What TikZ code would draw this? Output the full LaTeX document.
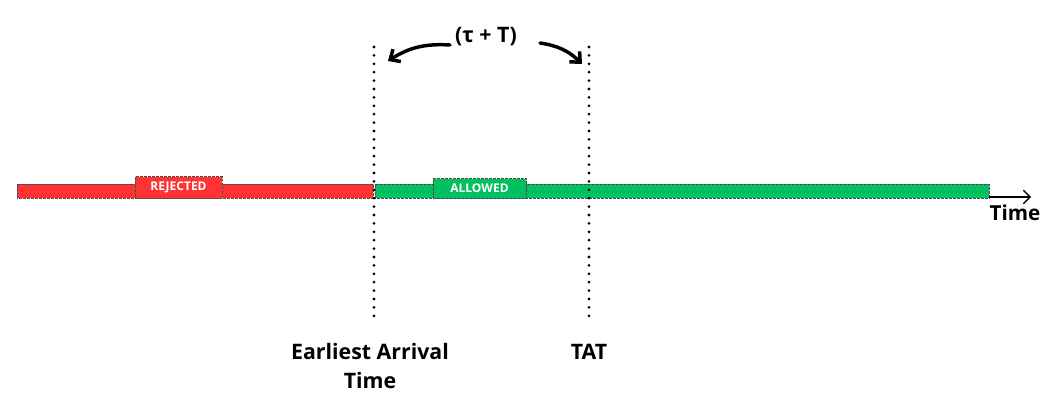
\documentclass[tikz,border=0pt]{standalone}
\usepackage{fontspec}
\setmainfont{Open Sans}
\usetikzlibrary{arrows.meta}
\usetikzlibrary{positioning}
\definecolor{rejred}{HTML}{FF3333}
\definecolor{allgreen}{HTML}{00C060}
\tikzset{
  bar/.style={draw=black!70, dashed, dash pattern=on 2pt off 1pt, line width=.4pt},
  tag/.style={bar, inner sep=0pt, font=\bfseries\fontsize{9}{11}\selectfont, text=white},
  marker/.style={line width=2.3pt, dash pattern=on 0pt off 6.3pt, line cap=round},
  label/.style={font=\bfseries\fontsize{16}{21.5}\selectfont, align=center}
}
\begin{document}
\begin{tikzpicture}[x=0.75pt,y=-0.75pt]
\useasboundingbox (0,0) rectangle (1056,404);

% bars
\draw[bar, fill=rejred] (17,184) rectangle (373,198);
\draw[bar, fill=allgreen] (375,184) rectangle (989,198);
\node[tag, fill=rejred, minimum width=65pt, minimum height=16.5pt] (rej) at (178.5,187.5) {REJECTED};
\node[tag, fill=allgreen, minimum width=70pt, minimum height=15pt] (all) at (479.5,188.5) {ALLOWED};

% time axis
\coordinate (tend) at (989,197);
\coordinate (tarrow) at (1031,197);
\draw[line width=1pt, -{Straight Barb[length=5pt]}] (tend) -- (tarrow);
\node[font=\bfseries\fontsize{15.5}{18}\selectfont] (time) at (1015,213) {Time};

% markers
\coordinate (eatop) at (374,47);
\coordinate (eabot) at (374,321);
\coordinate (tattop) at (589,47);
\coordinate (tatbot) at (589,321);
\draw[marker] (eatop) -- (eabot);
\draw[marker] (tattop) -- (tatbot);

\node[label] (ea) at (370,366) {Earliest Arrival\\Time};
\node[label] (tat) at (589,352) {TAT};

% window
\node[font=\bfseries\fontsize{16}{19}\selectfont] (win) at (486,37) {(τ + T)};
\draw[line width=2.6pt, line cap=round, -{Straight Barb[length=6pt,width=11pt]}] (450,45) to[bend right=18] (388,61);
\draw[line width=2.6pt, line cap=round, -{Straight Barb[length=6pt,width=11pt]}] (540,43) to[bend left=18] (582,64);
\end{tikzpicture}
\end{document}
